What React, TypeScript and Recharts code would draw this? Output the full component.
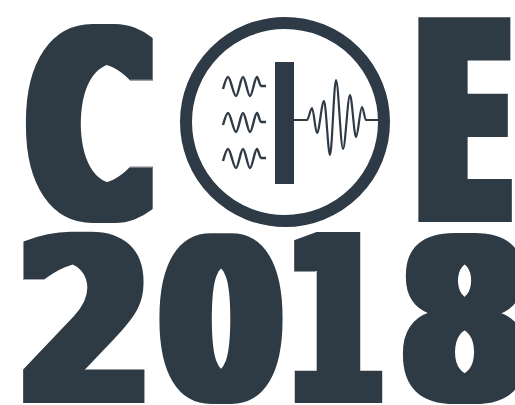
import React from "react";
import { ComposedChart, XAxis, YAxis, Line, ReferenceArea, ReferenceDot } from "recharts";

const INK = "#2e3a45";

// Text of the logo
const TOP_LETTERS = ["C", "E"];
const YEAR = "2018";

// Small input waves (three rows): x / y points
const wave1 = [
  { x: 223, y: 89 }, { x: 228, y: 77 }, { x: 236, y: 96 }, { x: 243, y: 77 },
  { x: 250, y: 96 }, { x: 257, y: 77 }, { x: 261, y: 86 }, { x: 266, y: 86 },
];
const wave2 = [
  { x: 223, y: 125 }, { x: 228, y: 113 }, { x: 236, y: 132 }, { x: 243, y: 113 },
  { x: 250, y: 132 }, { x: 257, y: 113 }, { x: 261, y: 122 }, { x: 266, y: 122 },
];
const wave3 = [
  { x: 223, y: 161 }, { x: 228, y: 149 }, { x: 236, y: 168 }, { x: 243, y: 149 },
  { x: 250, y: 168 }, { x: 257, y: 149 }, { x: 261, y: 158 }, { x: 266, y: 158 },
];
// Output wave packet
const packet = [
  { x: 294, y: 120 }, { x: 307, y: 120 }, { x: 312, y: 108 }, { x: 317, y: 133 },
  { x: 324, y: 101 }, { x: 330, y: 155 }, { x: 336, y: 80 }, { x: 343, y: 149 },
  { x: 350, y: 95 }, { x: 356, y: 137 }, { x: 362, y: 107 }, { x: 366, y: 120 },
  { x: 378, y: 120 },
];

// Glyph boxes in chart units
const cBox = { x1: 25, x2: 154, y1: 22, y2: 222 };
const eBox = { x1: 418, x2: 512, y1: 17, y2: 222 };
const yearBox = { x1: 23, x2: 528, y1: 232, y2: 403 };
// relative horizontal spans of each digit inside yearBox
const digitSpans: [number, number][] = [
  [0, 0.2416], [0.2693, 0.5168], [0.5366, 0.7129], [0.7505, 1],
];

const FONT = '"DejaVu Sans Condensed", "DejaVu Sans", sans-serif';

let _ctx: CanvasRenderingContext2D | null = null;
function measure(ch: string) {
  if (!_ctx) _ctx = document.createElement("canvas").getContext("2d");
  const ctx = _ctx!;
  ctx.font = `bold 100px ${FONT}`;
  const m = ctx.measureText(ch);
  return {
    L: m.actualBoundingBoxLeft,
    R: m.actualBoundingBoxRight,
    A: m.actualBoundingBoxAscent,
    D: m.actualBoundingBoxDescent,
    W: m.width,
  };
}

function fitSpan(ch: string, x: number, y: number, w: number, h: number) {
  const m = measure(ch);
  const s = h / (m.A + m.D);
  const F = 100 * s;
  const k = w / ((m.L + m.R) * s);
  const x0 = x + k * m.L * s;
  const base = y + m.A * s;
  return { F, x0, base, tl: k * m.W * s };
}

function GlyphWord(props: any) {
  const { viewBox, text, spans, rx, ry, id } = props;
  if (!viewBox) return null;
  const { x, y, width, height } = viewBox;
  const chars = text.split("");
  const parts = chars.map((ch: string, i: number) => {
    const sp = spans ? spans[i] : [0, 1];
    const gx = x + sp[0] * width;
    const gw = (sp[1] - sp[0]) * width;
    return fitSpan(ch, gx + rx, y + ry, gw - 2 * rx, height - 2 * ry);
  });
  return (
    <g>
      <defs>
        <filter id={id} filterUnits="userSpaceOnUse" x={-100} y={-100} width={800} height={700}>
          <feMorphology operator="dilate" radius={`${rx} ${ry}`} />
        </filter>
      </defs>
      <text fontFamily={FONT} fontWeight="bold" fill={INK} filter={`url(#${id})`}>
        {chars.map((ch: string, i: number) => (
          <tspan
            key={i}
            x={parts[i].x0}
            y={parts[i].base}
            fontSize={parts[i].F}
            textLength={parts[i].tl}
            lengthAdjust="spacingAndGlyphs"
          >
            {ch}
          </tspan>
        ))}
      </text>
    </g>
  );
}

export default function App() {
  return (
    <div style={{ position: "fixed", left: 0, top: 0, width: 515, height: 405, background: "#fff" }}>
      <ComposedChart width={515} height={405} margin={{ top: 0, right: 0, bottom: 0, left: 0 }}>
        <XAxis type="number" dataKey="x" domain={[0, 515]} hide allowDataOverflow />
        <YAxis type="number" domain={[0, 405]} reversed hide allowDataOverflow />
        <ReferenceArea
          x1={cBox.x1} x2={cBox.x2} y1={cBox.y1} y2={cBox.y2}
          fillOpacity={0} strokeOpacity={0} ifOverflow="visible"
          label={(p: any) => <GlyphWord viewBox={p.viewBox} text={TOP_LETTERS[0]} rx={11} ry={2} id="fC" />}
        />
        <ReferenceArea
          x1={eBox.x1} x2={eBox.x2} y1={eBox.y1} y2={eBox.y2}
          fillOpacity={0} strokeOpacity={0} ifOverflow="visible"
          label={(p: any) => <GlyphWord viewBox={p.viewBox} text={TOP_LETTERS[1]} rx={12} ry={2} id="fE" />}
        />
        <ReferenceArea
          x1={yearBox.x1} x2={yearBox.x2} y1={yearBox.y1} y2={yearBox.y2}
          fillOpacity={0} strokeOpacity={0} ifOverflow="visible"
          label={(p: any) => <GlyphWord viewBox={p.viewBox} text={YEAR} spans={digitSpans} rx={10} ry={1} id="fY" />}
        />
        <ReferenceDot x={285} y={122} r={99} fill="none" stroke={INK} strokeWidth={12} />
        <ReferenceArea x1={275} x2={294} y1={62} y2={184} fill={INK} fillOpacity={1} stroke="none" />
        <Line data={wave1} dataKey="y" type="monotone" stroke={INK} strokeWidth={2.4} dot={false} activeDot={false} isAnimationActive={false} />
        <Line data={wave2} dataKey="y" type="monotone" stroke={INK} strokeWidth={2.4} dot={false} activeDot={false} isAnimationActive={false} />
        <Line data={wave3} dataKey="y" type="monotone" stroke={INK} strokeWidth={2.4} dot={false} activeDot={false} isAnimationActive={false} />
        <Line data={packet} dataKey="y" type="monotone" stroke={INK} strokeWidth={2.2} dot={false} activeDot={false} isAnimationActive={false} />
      </ComposedChart>
    </div>
  );
}
